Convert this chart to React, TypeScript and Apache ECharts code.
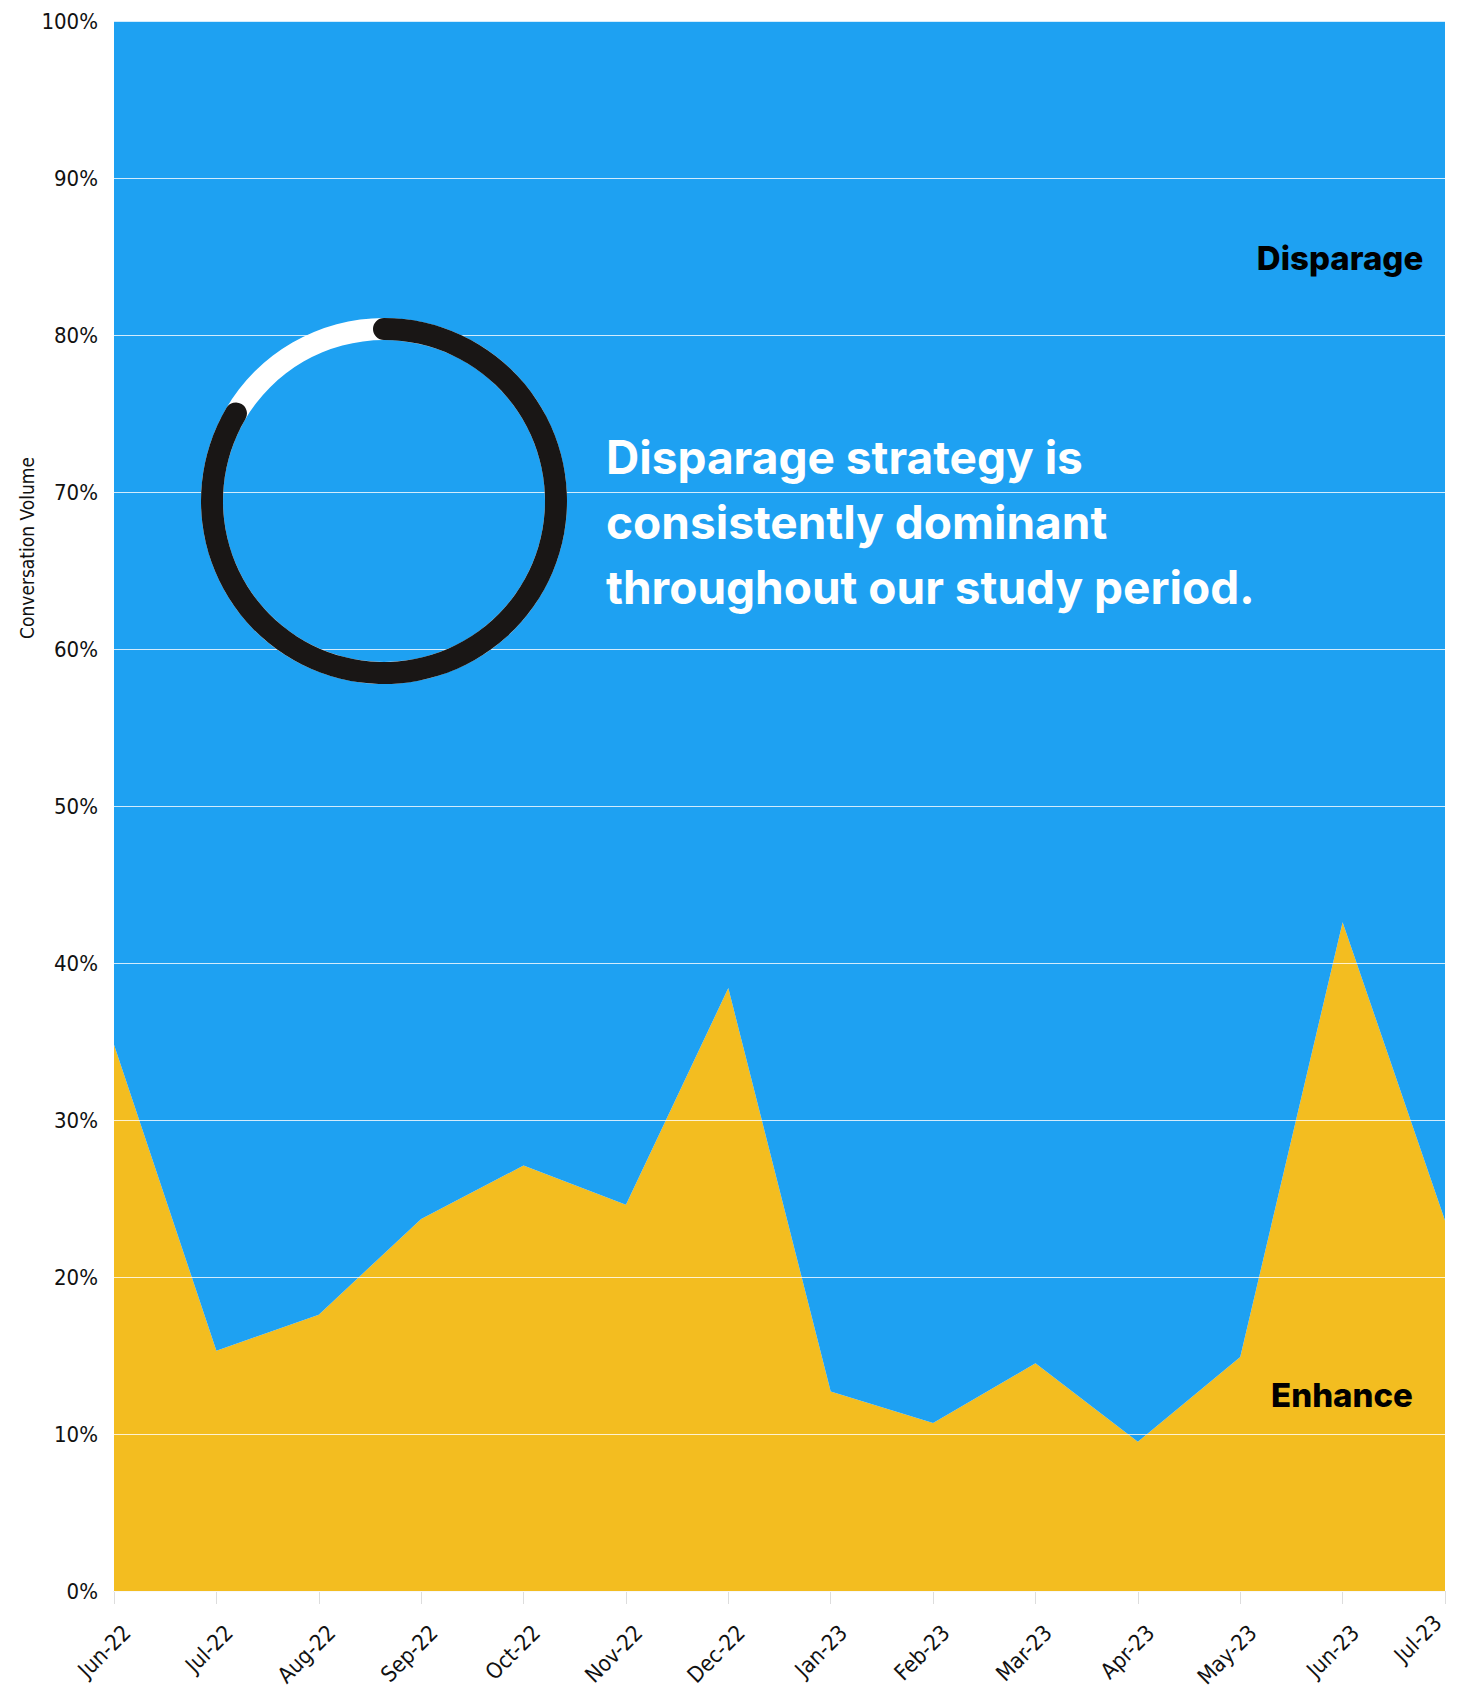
import React, { useEffect, useRef } from "react";
import * as echarts from "echarts";

const months = [
  "Jun-22", "Jul-22", "Aug-22", "Sep-22", "Oct-22", "Nov-22", "Dec-22",
  "Jan-23", "Feb-23", "Mar-23", "Apr-23", "May-23", "Jun-23", "Jul-23",
];
const enhance = [34.8, 15.3, 17.6, 23.7, 27.1, 24.6, 38.4, 12.7, 10.7, 14.5, 9.5, 14.9, 42.6, 23.6];
const disparage = enhance.map((v) => +(100 - v).toFixed(1));
const ringValue = [83.5];
const headline = ["Disparage strategy is", "consistently dominant", "throughout our study period."];

const BLUE = "#1EA1F2";
const YELLOW = "#F3BD20";
const INK = "#191615";
const AXIS_FONT = "'Liberation Sans Narrow', 'DejaVu Sans Condensed', Roboto, sans-serif";
const TITLE_FONT = "Inter, 'Noto Sans', sans-serif";

export default function App() {
  const ref = useRef<HTMLDivElement>(null);
  useEffect(() => {
    document.body.style.margin = "0";
    const chart = echarts.init(ref.current!, undefined, { renderer: "svg" });
    const lastIdx = months.length - 1;
    chart.setOption({
      animation: false,
      backgroundColor: "#ffffff",
      grid: {
        left: 114,
        right: 16,
        top: 21,
        bottom: 97,
        containLabel: false,
        outerBoundsMode: "none",
      },
      xAxis: {
        type: "category",
        data: months.map((m, i) =>
          i === lastIdx ? { value: m, textStyle: { padding: [7, 10, 0, 0] } } : m
        ),
        boundaryGap: false,
        axisLine: { show: true, lineStyle: { color: "#dddddd", width: 1 } },
        axisTick: { show: true, length: 13, lineStyle: { color: "#dddddd" } },
        axisLabel: {
          rotate: 45,
          margin: 21,
          color: "#111",
          fontSize: 22,
          fontFamily: AXIS_FONT,
          verticalAlign: "top",
          padding: [10, 3, 0, 0],
          hideOverlap: false,
        },
        splitLine: { show: false },
      },
      yAxis: {
        type: "value",
        min: 0,
        max: 100,
        interval: 10,
        z: 3,
        axisLine: { show: false },
        axisTick: { show: false },
        axisLabel: {
          formatter: "{value}%",
          margin: 16,
          color: "#111",
          fontSize: 22,
          fontFamily: AXIS_FONT,
        },
        splitLine: { show: true, lineStyle: { color: "rgba(255,255,255,0.8)", width: 1 } },
      },
      series: [
        {
          name: "Enhance",
          type: "line",
          stack: "total",
          data: enhance,
          symbol: "none",
          lineStyle: { width: 0 },
          areaStyle: { color: YELLOW, opacity: 1 },
          z: 2,
        },
        {
          name: "Disparage",
          type: "line",
          stack: "total",
          data: disparage,
          symbol: "none",
          lineStyle: { width: 0 },
          areaStyle: { color: BLUE, opacity: 1 },
          z: 2,
        },
        {
          type: "gauge",
          center: [384, 501],
          radius: 183,
          startAngle: 90,
          endAngle: -270,
          min: 0,
          max: 100,
          z: 5,
          progress: { show: true, width: 22, roundCap: true, itemStyle: { color: INK } },
          axisLine: { roundCap: false, lineStyle: { width: 22, color: [[1, "#ffffff"]] } },
          axisTick: { show: false },
          splitLine: { show: false },
          axisLabel: { show: false },
          pointer: { show: false },
          anchor: { show: false },
          title: { show: false },
          detail: { show: false },
          data: ringValue.map((v) => ({ value: v })),
        },
      ],
      graphic: [
        {
          type: "text",
          x: 27,
          y: 548,
          rotation: Math.PI / 2,
          z: 10,
          style: {
            text: "Conversation Volume",
            fill: "#111",
            font: `19px ${AXIS_FONT}`,
            align: "center",
            verticalAlign: "middle",
          },
        },
        ...headline.map((line, i) => ({
          type: "text",
          x: 606,
          y: 457 + i * 65,
          z: 10,
          style: {
            text: line,
            fill: "#ffffff",
            font: `700 46px ${TITLE_FONT}`,
            align: "left",
            verticalAlign: "middle",
          },
        })),
        {
          type: "text",
          x: 1340,
          y: 258,
          z: 10,
          style: {
            text: "Disparage",
            fill: "#000",
            font: `800 33px ${TITLE_FONT}`,
            align: "center",
            verticalAlign: "middle",
          },
        },
        {
          type: "text",
          x: 1342,
          y: 1395,
          z: 10,
          style: {
            text: "Enhance",
            fill: "#000",
            font: `800 33px ${TITLE_FONT}`,
            align: "center",
            verticalAlign: "middle",
          },
        },
      ],
    });
    return () => chart.dispose();
  }, []);
  return (
    <div
      ref={ref}
      style={{ position: "absolute", left: 0, top: 0, width: 1461, height: 1688 }}
    />
  );
}
